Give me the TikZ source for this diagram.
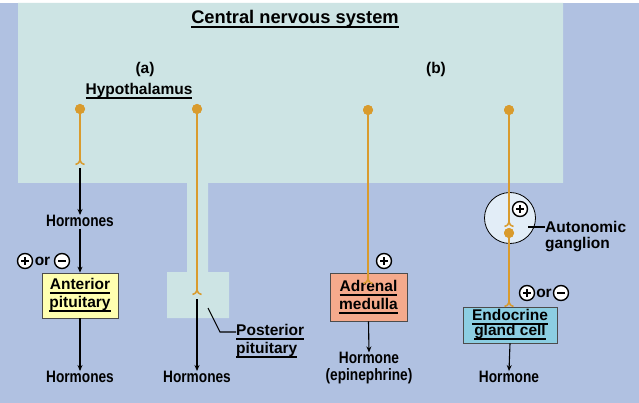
\documentclass[tikz,border=0pt]{standalone}
\usepackage{fontspec}
\setmainfont{Liberation Sans}
\newfontfamily\narrowf{Liberation Sans}[FakeStretch=0.83]
\usetikzlibrary{arrows.meta}
\definecolor{bgblue}{RGB}{176,193,225}
\definecolor{panel}{RGB}{205,228,228}
\definecolor{axonc}{RGB}{217,155,45}
\definecolor{ylw}{RGB}{255,255,176}
\definecolor{salmon}{RGB}{245,170,140}
\definecolor{cyanbox}{RGB}{140,206,226}
\definecolor{gangfill}{RGB}{226,237,247}
\newcommand\myul[1]{\setbox0\hbox{#1}\leavevmode\rlap{\rule[-0.28em]{\wd0}{0.12em}}\box0}
\begin{document}
\begin{tikzpicture}[x=1pt,y=-1pt,
  every node/.style={font=\bfseries\fontsize{15.5}{18}\selectfont, text=black, inner sep=0pt},
  hlabel/.style={font=\narrowf\bfseries\fontsize{16.5}{17}\selectfont, align=center},
  axon/.style={draw=axonc, line width=2.2pt},
  soma/.style={circle, fill=axonc, minimum size=10pt},
  arr/.style={draw=black, line width=1.1pt, -{Stealth[length=6pt,width=5pt]}},
  ln/.style={draw=black, line width=1.1pt},
  gbox/.style={draw=black!70, line width=0.8pt, align=center},
  term/.pic={\draw[axonc, line width=1.5pt] (-4.5,3.5) .. controls (-1,2) .. (0,-1) .. controls (1,2) .. (4.5,3.5);},
  plussym/.pic={\draw[line width=1.4pt, fill=white] (0,0) circle (7.5); \draw[line width=1.8pt] (-4,0) -- (4,0) (0,-4) -- (0,4);},
  minussym/.pic={\draw[line width=1.4pt, fill=white] (0,0) circle (7.5); \draw[line width=1.8pt] (-4,0) -- (4,0);}
]
\useasboundingbox (0,0) rectangle (639,403);
\fill[white] (0,0) rectangle (639,403);
\fill[bgblue] (0,3) rectangle (639,403);
\fill[panel] (18,3) -- (563,3) -- (563,183) -- (208,183) -- (208,272) -- (229,272) -- (229,318) -- (167,318) -- (167,272) -- (187,272) -- (187,183) -- (18,183) -- cycle;

% titles
\node (ttl) at (295,19) {\fontsize{18.3}{21}\selectfont\myul{Central nervous system}};
\node (la) at (145,69) {(a)};
\node (lb) at (436,69) {(b)};
\node (hyp) at (139,91) {\myul{Hypothalamus}};

% (a) neuron 1 -> anterior pituitary
\coordinate (t1) at (80,161);
\node[soma] (s1) at (80,109) {};
\draw[axon] (s1.center) -- (t1);
\node[soma] at (s1) {};
\pic at (t1) {term};
\coordinate (a1) at (80,168);
\node[hlabel] (h1) at (80,221) {Hormones};
\draw[arr] (a1) -- (h1.north);
\node[gbox, fill=ylw, minimum width=76pt, minimum height=45pt] (ant) at (80,295.5) {\myul{Anterior}\\\myul{pituitary}};
\draw[arr, shorten <=2pt] (h1.south) -- (ant.north);
\node[hlabel] (h2) at (80,377) {Hormones};
\draw[arr] (ant.south) -- (h2.north);
\pic at (25,261) {plussym};
\node (or1) at (42.5,261) {or};
\pic at (62,261) {minussym};

% (a) neuron 2 -> posterior pituitary
\coordinate (t2) at (197,291);
\node[soma] (s2) at (197,109) {};
\draw[axon] (s2.center) -- (t2);
\node[soma] at (s2) {};
\pic at (t2) {term};
\coordinate (a2) at (197,299);
\node[hlabel] (h3) at (197,377) {Hormones};
\draw[arr] (a2) -- (h3.north);
\coordinate (pl) at (208,308);
\coordinate (pk) at (220,332);
\node[anchor=west] (pp1) at (236,332) {\myul{Posterior}};
\node[anchor=west] (pp2) at (236,350) {\myul{pituitary}};
\draw[ln] (pl) -- (pk) -- (pp1.west);

% (b) neuron 3 -> adrenal medulla
\node[gbox, fill=salmon, minimum width=77pt, minimum height=48pt] (adr) at (368.5,297) {\myul{Adrenal}\\\myul{medulla}};
\coordinate (t3) at (368,280);
\node[soma] (s3) at (368,110) {};
\draw[axon] (s3.center) -- (t3);
\node[soma] at (s3) {};
\pic at (t3) {term};
\pic at (384,261) {plussym};
\node[hlabel] (h4) at (369,368.5) {Hormone\\(epinephrine)};
\draw[arr] (adr.south) -- (h4.north);

% (b) neuron 4 -> ganglion -> endocrine gland cell
\node[circle, draw=black, line width=0.8pt, fill=gangfill, minimum size=51pt] (gang) at (510,218) {};
\coordinate (t4) at (509,223);
\node[soma] (s4) at (509,110) {};
\draw[axon] (s4.center) -- (t4);
\node[soma] at (s4) {};
\pic at (t4) {term};
\pic at (520,209) {plussym};
\node[anchor=west] (ag1) at (545,227) {Autonomic};
\node[anchor=west] (ag2) at (545,245) {ganglion};
\coordinate (gl) at (528,227);
\draw[ln] (gl) -- (ag1.west);
\node[gbox, fill=cyanbox, minimum width=94pt, minimum height=36pt] (endo) at (510,325) {\myul{Endocrine}\\[-3pt]\myul{gland cell}};
\coordinate (t5) at (509,303);
\node[soma] (s5) at (509,233) {};
\draw[axon] (s5.center) -- (t5);
\node[soma] at (s5) {};
\pic at (t5) {term};
\pic at (527,293) {plussym};
\node (or2) at (544,293) {or};
\pic at (561,293) {minussym};
\node[hlabel] (h5) at (509,377) {Hormone};
\draw[arr] (endo.south) -- (h5.north);
\end{tikzpicture}
\end{document}
